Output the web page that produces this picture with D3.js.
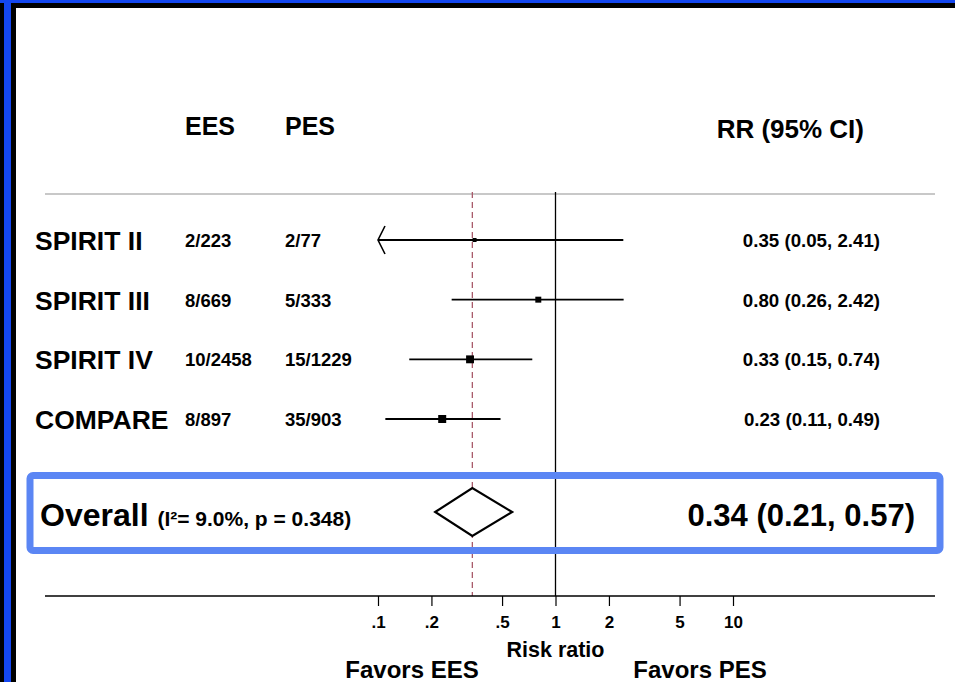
<!DOCTYPE html>
<html>
<head>
<meta charset="utf-8">
<script src="https://cdn.jsdelivr.net/npm/d3@7"></script>
<style>
  body { margin: 0; background: #fff; }
  svg { display: block; }
  text { font-family: "Liberation Sans", Arial, sans-serif; font-weight: bold; fill: #000; }
</style>
</head>
<body>
<div id="chart"></div>
<script>
// study data
const studies = ["SPIRIT II", "SPIRIT III", "SPIRIT IV", "COMPARE"]
const eesEvents = ["2/223", "8/669", "10/2458", "8/897"]
const pesEvents = ["2/77", "5/333", "15/1229", "35/903"]
const rr = [0.35, 0.80, 0.33, 0.23]
const lower = [0.05, 0.26, 0.15, 0.11]
const upper = [2.41, 2.42, 0.74, 0.49]
const weights = [9, 20, 35, 36]

// pooled estimate
const overallRR = 0.34
const overallLower = 0.21
const overallUpper = 0.57
const overallStats = "(I\u00b2= 9.0%, p = 0.348)"

// axis ticks
const tickValues = [0.1, 0.2, 0.5, 1, 2, 5, 10]
const tickLabels = [".1", ".2", ".5", "1", "2", "5", "10"]

const fmt = d3.format(".2f")

const width = 955
const height = 682

const svg = d3.select("#chart").append("svg")
    .attr("width", width)
    .attr("height", height)

// frame edges (slide border)
svg.append("rect").attr("x", 0).attr("y", 0).attr("width", 16).attr("height", height).attr("fill", "#000")
svg.append("rect").attr("x", 0).attr("y", 0).attr("width", width).attr("height", 8).attr("fill", "#000")
svg.append("rect").attr("x", 0).attr("y", 0).attr("width", width).attr("height", 3).attr("fill", "#1447f0")
svg.append("rect").attr("x", 4).attr("y", 0).attr("width", 7).attr("height", height).attr("fill", "#1447f0")

// scales
const x = d3.scaleLog().domain([0.1, 10]).range([378, 733])
const y = d3.scalePoint().domain(studies).range([240, 419])
const boxSize = d3.scaleSqrt().domain([0, d3.max(weights)]).range([0, 8])

const plotTop = 192
const axisY = 596
const xLeft = 45
const xRight = 935
const overallY = 512

// column headers
svg.append("text").attr("x", 185).attr("y", 135).style("font-size", "25px").text("EES")
svg.append("text").attr("x", 285).attr("y", 135).style("font-size", "25px").text("PES")
svg.append("text").attr("x", 864).attr("y", 138).attr("text-anchor", "end").style("font-size", "26px").text("RR (95% CI)")

// header rule
svg.append("line")
    .attr("x1", xLeft).attr("x2", xRight)
    .attr("y1", 194).attr("y2", 194)
    .attr("stroke", "#c8c8c8").attr("stroke-width", 2)

// null line
svg.append("line")
    .attr("x1", x(1)).attr("x2", x(1))
    .attr("y1", plotTop).attr("y2", axisY)
    .attr("stroke", "#000").attr("stroke-width", 1.3)

// overall estimate line
svg.append("line")
    .attr("x1", x(overallRR)).attr("x2", x(overallRR))
    .attr("y1", plotTop).attr("y2", axisY)
    .attr("stroke", "#a85a6a").attr("stroke-width", 1.3)
    .attr("stroke-dasharray", "6,4")

const rows = svg.append("g").selectAll("g")
    .data(studies)
    .join("g")
    .attr("transform", d => `translate(0,${y(d)})`)

rows.append("text").attr("x", 35).attr("y", 10).style("font-size", "26.5px").text(d => d)
rows.append("text").attr("x", 185).attr("y", 7).style("font-size", "18.5px").text((d, i) => eesEvents[i])
rows.append("text").attr("x", 285).attr("y", 7).style("font-size", "18.5px").text((d, i) => pesEvents[i])
rows.append("text").attr("x", 880).attr("y", 7).attr("text-anchor", "end").style("font-size", "18.7px")
    .text((d, i) => `${fmt(rr[i])} (${fmt(lower[i])}, ${fmt(upper[i])})`)

// confidence intervals, clipped at the axis minimum
rows.append("line")
    .attr("x1", (d, i) => x(Math.max(lower[i], 0.1)))
    .attr("x2", (d, i) => x(upper[i]))
    .attr("stroke", "#000").attr("stroke-width", 1.8)

// arrow where the interval runs off the scale
rows.filter((d, i) => lower[i] < 0.1)
    .append("path")
    .attr("d", () => {
        const x0 = x(0.1)
        return `M${x0 + 7},-14 L${x0},0 L${x0 + 7},14`
    })
    .attr("fill", "none").attr("stroke", "#000").attr("stroke-width", 1.6)

rows.append("rect")
    .attr("x", (d, i) => x(rr[i]) - boxSize(weights[i]) / 2)
    .attr("y", (d, i) => -boxSize(weights[i]) / 2)
    .attr("width", (d, i) => boxSize(weights[i]))
    .attr("height", (d, i) => boxSize(weights[i]))
    .attr("fill", "#000")

// highlight box around overall row (drawn over the vertical lines)
svg.append("rect")
    .attr("x", 30).attr("y", 475.5)
    .attr("width", 910).attr("height", 75)
    .attr("rx", 3)
    .attr("fill", "none")
    .attr("stroke", "#5b86f4")
    .attr("stroke-width", 7)

// overall row
const ov = svg.append("text").attr("x", 40).attr("y", overallY + 14).style("font-size", "32px")
ov.append("tspan").text("Overall ")
ov.append("tspan").style("font-size", "21px").text(overallStats)

svg.append("path")
    .attr("d", `M${x(overallLower)},${overallY} L${x(overallRR)},${overallY - 24} L${x(overallUpper)},${overallY} L${x(overallRR)},${overallY + 24} Z`)
    .attr("fill", "#fff").attr("stroke", "#000").attr("stroke-width", 2.2)

svg.append("text").attr("x", 915).attr("y", overallY + 14).attr("text-anchor", "end").style("font-size", "31px")
    .text(`${fmt(overallRR)} (${fmt(overallLower)}, ${fmt(overallUpper)})`)

// x axis
svg.append("line")
    .attr("x1", xLeft).attr("x2", xRight)
    .attr("y1", axisY).attr("y2", axisY)
    .attr("stroke", "#000").attr("stroke-width", 1.5)

const axis = svg.append("g")
    .attr("transform", `translate(0,${axisY})`)
    .call(d3.axisBottom(x)
        .tickValues(tickValues)
        .tickFormat((d, i) => tickLabels[i])
        .tickSize(10)
        .tickPadding(10))

axis.select(".domain").remove()
axis.selectAll(".tick line").attr("stroke", "#000").attr("stroke-width", 1.2)
axis.selectAll(".tick text")
    .style("font-family", "'Liberation Sans', Arial, sans-serif")
    .style("font-weight", "bold")
    .style("font-size", "17px")

svg.append("text").attr("x", x(1)).attr("y", 657).attr("text-anchor", "middle").style("font-size", "21.5px").text("Risk ratio")
svg.append("text").attr("x", 412).attr("y", 678).attr("text-anchor", "middle").style("font-size", "24px").text("Favors EES")
svg.append("text").attr("x", 700).attr("y", 678).attr("text-anchor", "middle").style("font-size", "24px").text("Favors PES")
</script>
</body>
</html>
